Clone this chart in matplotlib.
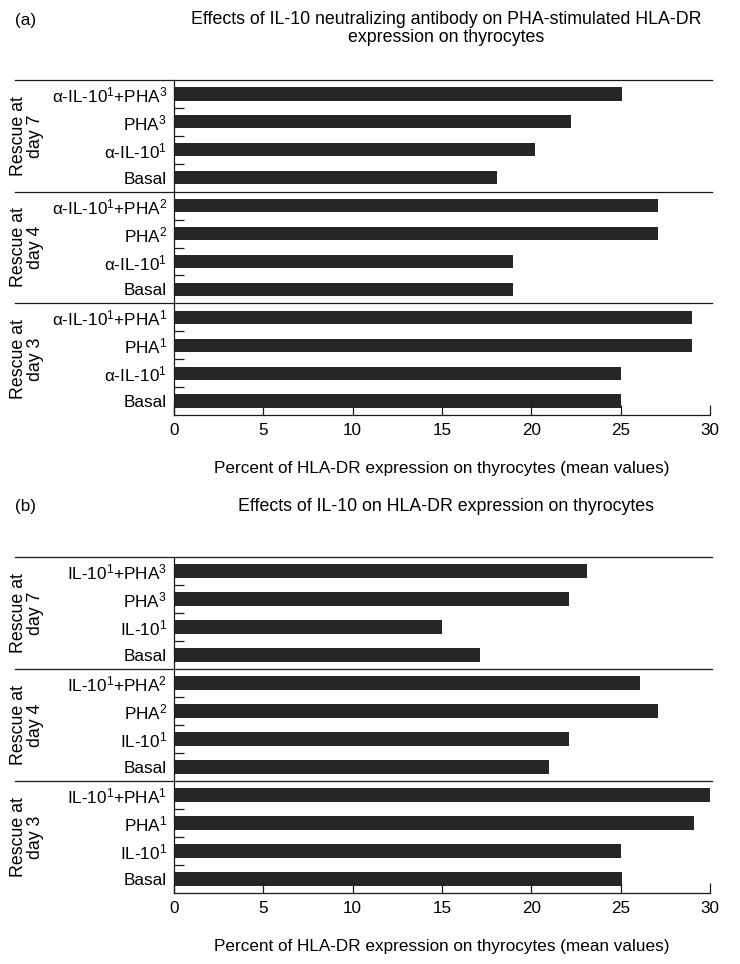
import matplotlib
matplotlib.use("Agg")
import matplotlib.pyplot as plt
import matplotlib.transforms as mtransforms
import numpy as np

plt.rcParams['font.family'] = ['Liberation Sans', 'DejaVu Sans']
plt.rcParams['mathtext.fontset'] = 'custom'
plt.rcParams['mathtext.rm'] = 'Liberation Sans'
plt.rcParams['mathtext.it'] = 'Liberation Sans'
plt.rcParams['mathtext.default'] = 'regular'

groups = ["Rescue at\nday 7", "Rescue at\nday 4", "Rescue at\nday 3"]

cats_a = ["α-IL-10$^1$+PHA$^3$", "PHA$^3$", "α-IL-10$^1$", "Basal",
          "α-IL-10$^1$+PHA$^2$", "PHA$^2$", "α-IL-10$^1$", "Basal",
          "α-IL-10$^1$+PHA$^1$", "PHA$^1$", "α-IL-10$^1$", "Basal"]
vals_a = [25.1, 22.2, 20.2, 18.1,
          27.1, 27.1, 19.0, 19.0,
          29.0, 29.0, 25.0, 25.0]

cats_b = ["IL-10$^1$+PHA$^3$", "PHA$^3$", "IL-10$^1$", "Basal",
          "IL-10$^1$+PHA$^2$", "PHA$^2$", "IL-10$^1$", "Basal",
          "IL-10$^1$+PHA$^1$", "PHA$^1$", "IL-10$^1$", "Basal"]
vals_b = [23.1, 22.1, 15.0, 17.1,
          26.1, 27.1, 22.1, 21.0,
          30.1, 29.1, 25.0, 25.1]

xticks = [0, 5, 10, 15, 20, 25, 30]
xlabel = "Percent of HLA-DR expression on thyrocytes (mean values)"

W, H = 740, 964
fig = plt.figure(figsize=(W / 100, H / 100), dpi=100)

bar_color = "#262626"
line_color = "#1a1a1a"
fs = 12.3


def panel(top_px, bottom_px, cats, vals, tag, title, title_y):
    ax = fig.add_axes([174 / W, 1 - bottom_px / H, (710 - 174) / W, (bottom_px - top_px) / H])
    y = np.arange(len(cats))
    ax.barh(y, vals, height=0.47, color=bar_color)
    ax.set_xlim(0, 30)
    ax.set_ylim(len(cats) - 0.5, -0.5)

    ax.set_yticks(y)
    ax.set_yticklabels(cats, fontsize=fs)
    minor = [g * 4 + k + 0.5 for g in range(3) for k in range(3)]
    ax.set_yticks(minor, minor=True)
    ax.tick_params(axis="y", which="major", length=0, pad=5)
    ax.tick_params(axis="y", which="minor", direction="in", length=7, width=0.9, color=line_color)

    ax.set_xticks(xticks)
    ax.tick_params(axis="x", direction="in", length=7, width=0.9, labelsize=fs, pad=6, color=line_color)
    ax.set_xlabel(xlabel, fontsize=fs, labelpad=16)

    for s in ["top", "right"]:
        ax.spines[s].set_visible(False)
    for s in ["left", "bottom"]:
        ax.spines[s].set_linewidth(0.9)
        ax.spines[s].set_color(line_color)

    # horizontal separators extending into label area
    trans = mtransforms.blended_transform_factory(fig.transFigure, ax.transData)
    for ys in [-0.5, 3.5, 7.5]:
        ax.plot([15 / W, 712 / W], [ys, ys], transform=trans, color=line_color,
                lw=0.9, clip_on=False)

    for g, name in enumerate(groups):
        ax.text(27 / W, g * 4 + 1.5, name, transform=trans, rotation=90,
                ha="center", va="center", multialignment="center",
                fontsize=fs + 0.5, linespacing=1.05)

    fig.text(15 / W, 1 - title_y / H, tag, fontsize=fs, ha="left", va="center")
    fig.text(446 / W, 1 - (title_y - 9) / H, title, fontsize=12.8, ha="center", va="top",
             linespacing=1.1)
    return ax


panel(80, 415, cats_a, vals_a, "(a)",
      "Effects of IL-10 neutralizing antibody on PHA-stimulated HLA-DR\nexpression on thyrocytes", 20)
panel(557, 893, cats_b, vals_b, "(b)",
      "Effects of IL-10 on HLA-DR expression on thyrocytes", 507)

fig.savefig("out.png", dpi=100)
